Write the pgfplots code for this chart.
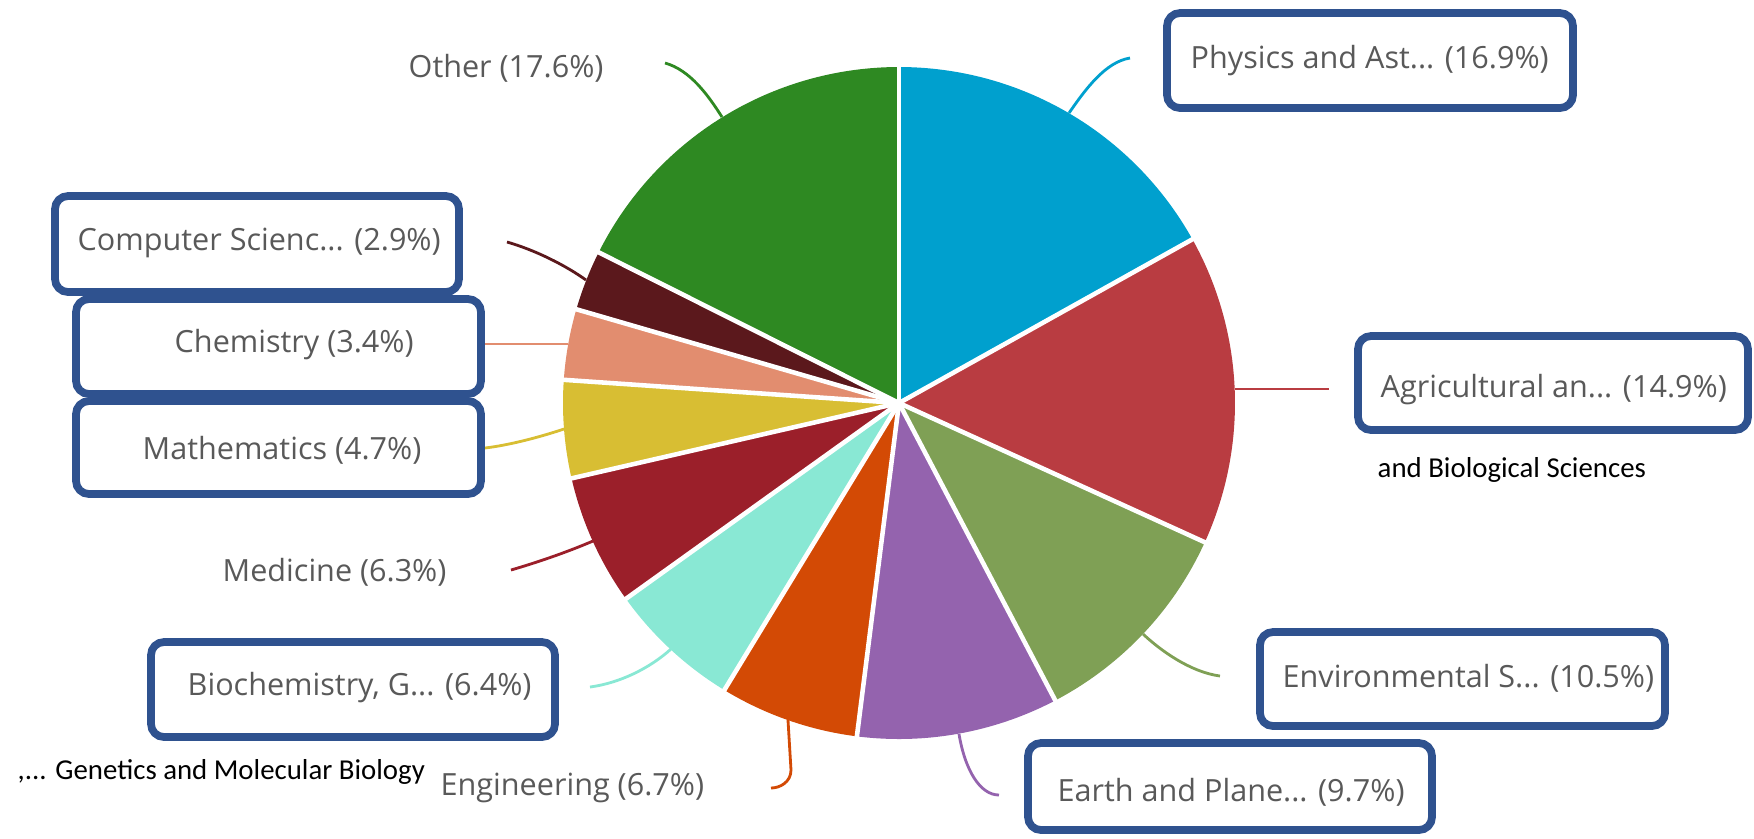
\documentclass[border=0pt]{standalone}
\usepackage{pgfplots}
\usepackage{pgfplotstable}
\pgfplotsset{compat=1.18}
\usepackage{fontspec}
\setmainfont{Open Sans}
\newfontfamily\calibri{Carlito}

\definecolor{cPhys}{RGB}{0,160,206}
\definecolor{cAgri}{RGB}{185,60,65}
\definecolor{cEnv}{RGB}{127,160,85}
\definecolor{cEarth}{RGB}{148,99,174}
\definecolor{cEng}{RGB}{211,74,5}
\definecolor{cBio}{RGB}{137,232,212}
\definecolor{cMed}{RGB}{155,31,42}
\definecolor{cMath}{RGB}{216,190,51}
\definecolor{cChem}{RGB}{226,141,111}
\definecolor{cCS}{RGB}{91,24,28}
\definecolor{cOther}{RGB}{46,137,34}
\definecolor{boxblue}{RGB}{47,82,143}
\definecolor{labgray}{RGB}{89,89,89}

% share of each subject area, clockwise from 12 o'clock
\pgfplotstableread[col sep=comma]{
key,value,color
Phys,16.9,cPhys
Agri,14.9,cAgri
Env,10.5,cEnv
Earth,9.7,cEarth
Eng,6.7,cEng
Bio,6.4,cBio
Med,6.3,cMed
Math,4.7,cMath
Chem,3.4,cChem
CS,2.9,cCS
Other,17.6,cOther
}\piedata

\tikzset{
  lab/.style={anchor=west, inner sep=0pt, text=labgray, font=\fontsize{8.7}{10}\selectfont},
  lbox/.style={draw=boxblue, line width=2.2pt, rounded corners=1.3mm},
  lead/.style={line width=0.8pt},
}

\begin{document}
\begin{tikzpicture}
\begin{axis}[
  width=17.54cm, height=8.38cm, scale only axis,
  xmin=0, xmax=1754, ymin=0, ymax=838,
  y dir=reverse,
  hide axis, clip=false,
]
\path (axis cs:0,0) rectangle (axis cs:1754,838);

% slices
\def\startang{90}
\pgfplotsforeachungrouped \i in {0,...,10}{%
  \pgfplotstablegetelem{\i}{value}\of\piedata
  \let\val\pgfplotsretval
  \pgfplotstablegetelem{\i}{color}\of\piedata
  \let\col\pgfplotsretval
  \pgfmathsetmacro\endang{\startang-3.6*\val}%
  \edef\doslice{\noexpand\fill[\col] (axis cs:899,403) -- ++(\startang:3.36cm)
    arc[start angle=\startang, end angle=\endang, radius=3.36cm] -- cycle;}%
  \doslice
  \global\let\startang\endang
}
% white gaps between slices
\def\startang{90}
\pgfplotsforeachungrouped \i in {0,...,10}{%
  \pgfplotstablegetelem{\i}{value}\of\piedata
  \let\val\pgfplotsretval
  \edef\dosep{\noexpand\draw[white, line width=1.3pt] (axis cs:899,403) -- ++(\startang:3.42cm);}%
  \dosep
  \pgfmathsetmacro\endang{\startang-3.6*\val}%
  \global\let\startang\endang
}

% leader lines
\draw[lead, cPhys] (axis cs:1069,113) .. controls (axis cs:1085,90) and (axis cs:1105,62) .. (axis cs:1130,58);
\draw[lead, cAgri] (axis cs:1235,389) -- (axis cs:1329,389);
\draw[lead, cEnv] (axis cs:1143,634) .. controls (axis cs:1160,650) and (axis cs:1190,672) .. (axis cs:1220,676);
\draw[lead, cEarth] (axis cs:959,734) .. controls (axis cs:965,770) and (axis cs:980,795) .. (axis cs:999,795);
\draw[lead, cEng] (axis cs:788,720) -- (axis cs:791,770) .. controls (axis cs:791,782) and (axis cs:780,788) .. (axis cs:771,788);
\draw[lead, cBio] (axis cs:671,649) .. controls (axis cs:650,668) and (axis cs:620,683) .. (axis cs:590,687);
\draw[lead, cMed] (axis cs:593,541) .. controls (axis cs:565,553) and (axis cs:535,563) .. (axis cs:511,570);
\draw[lead, cMath] (axis cs:564,429) .. controls (axis cs:540,437) and (axis cs:510,445) .. (axis cs:485,448);
\draw[lead, cChem] (axis cs:568,344) -- (axis cs:485,344);
\draw[lead, cCS] (axis cs:586,280) .. controls (axis cs:565,265) and (axis cs:535,250) .. (axis cs:507,242);
\draw[lead, cOther] (axis cs:722,117) .. controls (axis cs:708,95) and (axis cs:690,70) .. (axis cs:665,63);

% highlight boxes
\draw[lbox] (axis cs:1167,13) rectangle (axis cs:1573,108);
\draw[lbox] (axis cs:1358,336) rectangle (axis cs:1748,430);
\draw[lbox] (axis cs:1260,632) rectangle (axis cs:1665,726);
\draw[lbox] (axis cs:1028,743) rectangle (axis cs:1432,830);
\draw[lbox] (axis cs:151,642) rectangle (axis cs:555,737);
\draw[lbox] (axis cs:76,401) rectangle (axis cs:481,494);
\draw[lbox] (axis cs:76,299) rectangle (axis cs:481,394);
\draw[lbox] (axis cs:55,196) rectangle (axis cs:459,292);

% labels
\node[lab] at (axis cs:1190,61) {Physics and Ast... (16.9\%)};
\node[lab] at (axis cs:1380,390) {Agricultural an... (14.9\%)};
\node[lab] at (axis cs:1282,678) {Environmental S... (10.5\%)};
\node[lab] at (axis cs:1057,792) {Earth and Plane... (9.7\%)};
\node[lab] at (axis cs:440,788) {Engineering (6.7\%)};
\node[lab] at (axis cs:187,688) {Biochemistry, G... (6.4\%)};
\node[lab] at (axis cs:222,572) {Medicine (6.3\%)};
\node[lab] at (axis cs:142,450) {Mathematics (4.7\%)};
\node[lab] at (axis cs:174,345) {Chemistry (3.4\%)};
\node[lab] at (axis cs:77,243) {Computer Scienc... (2.9\%)};
\node[lab] at (axis cs:408,68) {Other (17.6\%)};

% added notes
\node[anchor=west, inner sep=0pt, font=\calibri\fontsize{8.2}{10}\selectfont] at (axis cs:1377,470) {and Biological Sciences};
\node[anchor=west, inner sep=0pt, font=\calibri\fontsize{8.2}{10}\selectfont] at (axis cs:17,772) {,... Genetics and Molecular Biology};
\end{axis}
\end{tikzpicture}
\end{document}
